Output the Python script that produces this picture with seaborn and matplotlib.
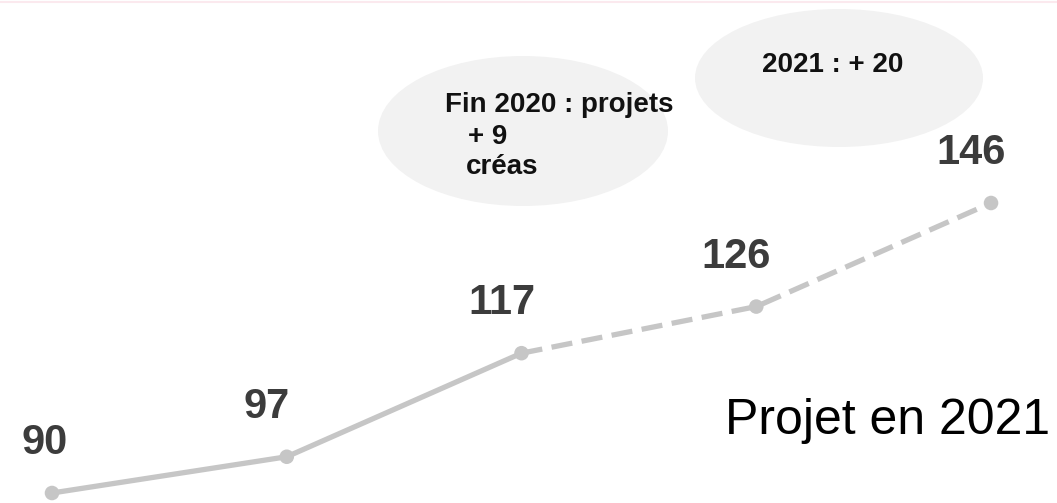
import matplotlib
matplotlib.use("Agg")
import matplotlib.pyplot as plt
import seaborn as sns
import pandas as pd
from matplotlib.patches import Ellipse

# Data
periods = [0, 1, 2, 3, 4]
values = [90, 97, 117, 126, 146]
solid_idx = [0, 1, 2]
dashed_idx = [2, 3, 4]
note2 = "2021 : + 20"
caption = "Projet en 2021"

sns.set_theme(style="white")
plt.rcParams["font.family"] = ["Liberation Sans", "DejaVu Sans"]

W, H = 1057, 503
fig = plt.figure(figsize=(W / 100, H / 100), dpi=100)
fig.patch.set_facecolor("white")
ax = fig.add_axes([0, 0, 1, 1])
ax.set_facecolor("white")

df = pd.DataFrame({"x": periods, "y": values})
line_col = "#c6c6c6"

def px(x, y):
    return (x / W, 1 - y / H)

e1 = Ellipse(px(523, 131), 290 / W, 150 / H, transform=fig.transFigure,
             facecolor="#f2f2f2", edgecolor="none", zorder=0)
e2 = Ellipse(px(839, 78), 288 / W, 138 / H, transform=fig.transFigure,
             facecolor="#f2f2f2", edgecolor="none", zorder=0)
fig.patches.extend([e1, e2])

sns.lineplot(data=df.iloc[solid_idx], x="x", y="y", ax=ax, color=line_col,
             linewidth=3.8, solid_capstyle="round", zorder=2)
sns.lineplot(data=df.iloc[dashed_idx], x="x", y="y", ax=ax, color=line_col,
             linewidth=3.8, zorder=2)
ax.lines[-1].set_dashes([4.0, 1.8])
sns.scatterplot(data=df, x="x", y="y", ax=ax, color=line_col, s=110,
                edgecolor="none", zorder=3, legend=False)

for i, (xv, yv) in enumerate(zip(periods, values)):
    dx = -7 if i == 0 else -20
    ax.annotate(str(yv), (xv, yv), xytext=(dx, 50), textcoords="offset pixels",
                ha="center", va="center", fontsize=30, fontweight="bold",
                color="#3c3c3c")

ax.set_xlim(-0.2215, 4.281)
ax.set_ylim(88.07, 185.2)
ax.axis("off")

fig.text(445 / W, 1 - 105 / H, "Fin 2020 : projets", ha="left", va="center",
         fontsize=20, fontweight="bold", color="#111111")
fig.text(488 / W, 1 - 137 / H, "+ 9", ha="center", va="center",
         fontsize=20, fontweight="bold", color="#111111")
fig.text(502 / W, 1 - 167 / H, "créas", ha="center", va="center",
         fontsize=20, fontweight="bold", color="#111111")
fig.text(833 / W, 1 - 65 / H, note2, ha="center", va="center",
         fontsize=20, fontweight="bold", color="#111111")
fig.text(1050 / W, 1 - 434 / H, caption, ha="right", va="baseline",
         fontsize=36, color="#000000")

fig.add_artist(plt.Line2D([0, 1], [1 - 2 / H, 1 - 2 / H], transform=fig.transFigure,
                          color="#fbe9ee", linewidth=1.5))

fig.savefig("out.png", dpi=100)
